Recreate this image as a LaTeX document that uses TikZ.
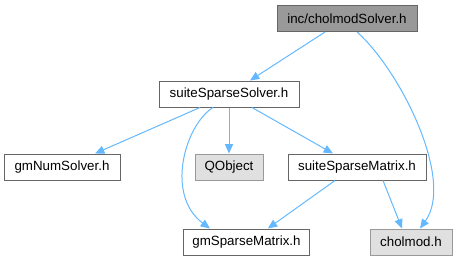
\documentclass[tikz,border=0pt]{standalone}
\usepackage{fontspec}
\setmainfont{Liberation Sans}
\usetikzlibrary{arrows.meta,positioning}
\definecolor{edgeblue}{HTML}{63B8FF}
\definecolor{rootfill}{HTML}{999999}
\definecolor{extfill}{HTML}{E0E0E0}
\definecolor{boxline}{HTML}{666666}
\definecolor{extline}{HTML}{999999}

\begin{document}
\begin{tikzpicture}[
  x=0.75pt, y=-0.75pt,
  filenode/.style={rectangle, draw=boxline, fill=white, line width=0.75pt, minimum height=19.5pt, inner sep=0pt, font=\fontsize{10}{12}\selectfont},
  rootnode/.style={filenode, fill=rootfill},
  extnode/.style={filenode, draw=extline, fill=extfill},
  incl/.style={-{Triangle[length=7pt,width=6pt]}, draw=edgeblue, line width=0.75pt}
]
\useasboundingbox (0,0) rectangle (457,261);

% files
\node[rootnode, minimum width=105pt] (root) at (347,18.5) {inc/cholmodSolver.h};
\node[filenode, minimum width=105pt] (solver) at (229,94) {suiteSparseSolver.h};
\node[filenode, minimum width=87pt] (numsolver) at (62,167) {gmNumSolver.h};
\node[extnode, minimum width=51pt] (qobject) at (229,167) {QObject};
\node[filenode, minimum width=103.5pt] (spmatrix) at (357,167) {suiteSparseMatrix.h};
\node[filenode, minimum width=95pt] (gmsparse) at (246.5,242) {gmSparseMatrix.h};
\node[extnode, minimum width=61.5pt] (cholmod) at (411,242) {cholmod.h};

% includes
\draw[incl] ([xshift=-16.5pt]root.south) -- ([xshift=15.75pt]solver.north);
\draw[incl] ([xshift=7.5pt]root.south) .. controls (400,70) and (455,180) .. ([xshift=6.75pt]cholmod.north);
\draw[incl] ([xshift=-21.75pt]solver.south) -- ([xshift=24.75pt]numsolver.north);
\draw[incl] ([xshift=-12pt]solver.south) .. controls (185,125) and (165,195) .. ([xshift=-27.4pt]gmsparse.north);
\draw[incl] (solver.south) -- (qobject.north);
\draw[incl] ([xshift=17.25pt]solver.south) -- ([xshift=-18pt]spmatrix.north);
\draw[incl] ([xshift=-16.5pt]spmatrix.south) -- ([xshift=16pt]gmsparse.north);
\draw[incl] ([xshift=19.5pt]spmatrix.south) -- ([xshift=-6.75pt]cholmod.north);

\end{tikzpicture}
\end{document}
